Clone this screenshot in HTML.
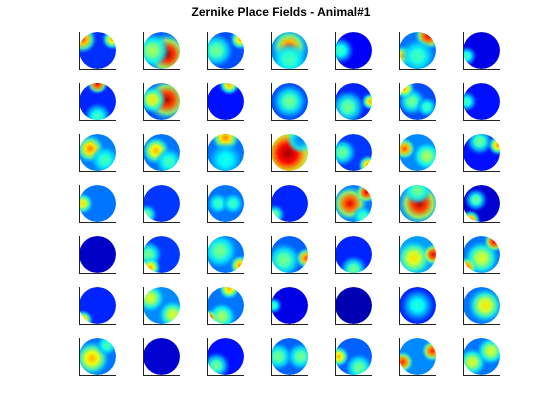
<!DOCTYPE html>
<html><head><meta charset="utf-8"><style>
body{margin:0;background:#fff;width:560px;height:420px;overflow:hidden}
svg{display:block}
</style></head><body>
<svg id="fig" width="560" height="420" xmlns="http://www.w3.org/2000/svg">
<text x="281" y="16" text-anchor="middle" font-family="Liberation Sans, sans-serif" font-weight="bold" font-size="12">Zernike Place Fields - Animal#1</text>
</svg>
<script>
// base value (0..1 jet) per cell, row-major 7x7
const baseValues=[0.17,0.22,0.2,0.26,0.12,0.24,0.1,
0.16,0.2,0.14,0.2,0.16,0.2,0.14,
0.25,0.24,0.24,0.45,0.18,0.26,0.14,
0.24,0.18,0.24,0.16,0.24,0.24,0.08,
0.07,0.18,0.24,0.22,0.16,0.28,0.24,
0.16,0.26,0.24,0.1,0.05,0.16,0.24,
0.24,0.08,0.14,0.22,0.22,0.26,0.24];
// hotspots per cell: [x, y, radius, value] in unit-disk coords
const hotspots=[
[[-0.8,-0.6,0.4,0.8],[0.8,-0.6,0.3,0.7]],
[[0.3,0.2,0.6,0.97],[-0.5,0,0.5,0.55]],
[[-0.5,0,0.5,0.5],[0.8,-0.6,0.3,0.7]],
[[0,-0.2,0.5,0.8],[0,0.5,0.5,0.45]],
[[-0.7,0,0.4,0.45]],
[[0.6,-0.8,0.4,0.9],[-0.8,0.3,0.3,0.7],[0,0.3,0.5,0.45]],
[[-0.8,0.3,0.3,0.45]],
[[0,-0.95,0.3,0.9],[0,0.8,0.4,0.45]],
[[0.3,-0.1,0.6,0.95],[-0.5,-0.1,0.4,0.65]],
[[0.2,-0.9,0.3,0.7]],
[[0,0,0.5,0.5]],
[[-0.3,0.3,0.5,0.5],[0.9,0,0.25,0.7]],
[[-0.3,0,0.4,0.5],[-0.7,-0.7,0.3,0.7],[0.5,0.3,0.3,0.45]],
[[-0.8,0,0.3,0.45]],
[[-0.4,-0.2,0.4,0.75],[0.4,0.4,0.4,0.45]],
[[-0.3,-0.1,0.4,0.7],[0.4,0.5,0.4,0.45]],
[[0,-0.8,0.4,0.75],[0,0.4,0.5,0.4]],
[[-0.1,0.05,0.75,0.97],[0.6,-0.7,0.4,0.25]],
[[-0.6,0,0.4,0.5],[0.8,0.7,0.3,0.75]],
[[-0.7,-0.2,0.3,0.8],[0.5,0.2,0.4,0.55]],
[[-0.1,-0.6,0.4,0.5],[0.9,-0.4,0.3,0.75]],
[[-0.8,0,0.3,0.65]],
[[-0.8,0.6,0.3,0.5]],
[[-0.4,0,0.3,0.45],[0.4,0,0.3,0.45]],
[[-0.8,0.6,0.3,0.5]],
[[-0.2,0,0.5,0.9],[0.7,-0.6,0.3,0.9],[0.5,0.7,0.3,0.45]],
[[0.1,0,0.6,0.95],[0,-0.7,0.4,0.5]],
[[-0.3,-0.2,0.35,0.5],[-0.6,0.9,0.3,0.8]],
[],
[[-0.7,0,0.4,0.5],[-0.6,0.7,0.3,0.7]],
[[-0.3,-0.2,0.5,0.5],[0.8,0.6,0.3,0.75]],
[[-0.3,0.3,0.5,0.5],[0.9,0.2,0.3,0.8]],
[[0,0.8,0.4,0.5]],
[[-0.2,0.2,0.5,0.65],[0.85,0,0.3,0.9]],
[[0,0.2,0.5,0.6],[0.7,-0.7,0.3,0.9],[-0.8,0.7,0.3,0.8]],
[[-0.8,0.8,0.3,0.75]],
[[-0.6,-0.4,0.4,0.6],[0.6,0.5,0.4,0.6]],
[[-0.2,0.6,0.4,0.55],[-0.9,0.7,0.25,0.9],[0.2,-0.9,0.3,0.7]],
[[-0.85,0,0.25,0.45]],
[],
[[0,0,0.5,0.42]],
[[0.2,0,0.5,0.65]],
[[-0.3,0.1,0.5,0.7],[0.5,-0.6,0.3,0.45]],
[],
[[-0.5,0.5,0.4,0.5]],
[[-0.6,0,0.4,0.5],[0.6,0,0.4,0.5]],
[[-0.8,0,0.3,0.7],[0.3,0.6,0.4,0.5]],
[[-0.8,0.3,0.3,0.85],[0.8,-0.3,0.3,0.85]],
[[-0.5,0.3,0.4,0.6],[0.5,-0.3,0.4,0.6]]];
const colX=[79,143,207,271,335,399,463];
const rowY=[32,83,134,185,236,287,338];
function jet(v){
  v=Math.max(0,Math.min(1,v));
  const f=(x)=>Math.max(0,Math.min(1,1.5-Math.abs(4*v-x)));
  return `rgb(${Math.round(255*f(3))},${Math.round(255*f(2))},${Math.round(255*f(1))})`;
}
const svg=document.getElementById('fig');
const NS='http://www.w3.org/2000/svg';
const defs=document.createElementNS(NS,'defs');svg.appendChild(defs);
const S=37;
for(let i=0;i<49;i++){
  const r=Math.floor(i/7),c=i%7;
  const x0=colX[c],y0=rowY[r];
  const cx=x0+S/2,cy=y0+S/2,R=S/2;
  const g=document.createElementNS(NS,'g');
  
  
  const cp=document.createElementNS(NS,'clipPath');cp.setAttribute('id','cp'+i);
  const cc=document.createElementNS(NS,'circle');cc.setAttribute('cx',cx);cc.setAttribute('cy',cy);cc.setAttribute('r',R);
  cp.appendChild(cc);defs.appendChild(cp);
  const inner=document.createElementNS(NS,'g');inner.setAttribute('clip-path','url(#cp'+i+')');
  const base=document.createElementNS(NS,'circle');
  base.setAttribute('cx',cx);base.setAttribute('cy',cy);base.setAttribute('r',R);base.setAttribute('fill',jet(baseValues[i]));
  
  
  inner.appendChild(base);
  hotspots[i].forEach((h,k)=>{
    const gid='rg'+i+'_'+k;
    const rg=document.createElementNS(NS,'radialGradient');rg.setAttribute('id',gid);
    const b=baseValues[i];
    [[0,h[3],1],[0.35,b+(h[3]-b)*0.8,1],[0.65,b+(h[3]-b)*0.45,0.85],[1,b+(h[3]-b)*0.2,0]].forEach(s=>{const st=document.createElementNS(NS,'stop');st.setAttribute('offset',s[0]);st.setAttribute('stop-color',jet(s[1]));st.setAttribute('stop-opacity',s[2]);rg.appendChild(st);});
    defs.appendChild(rg);
    const e=document.createElementNS(NS,'circle');
    e.setAttribute('cx',cx+h[0]*R);e.setAttribute('cy',cy+h[1]*R);e.setAttribute('r',h[2]*R*1.9);
    e.setAttribute('fill','url(#'+gid+')');
    
    
    inner.appendChild(e);
  });
  g.appendChild(inner);
  const ax=document.createElementNS(NS,'path');
  ax.setAttribute('d',`M${x0+0.5},${y0} V${y0+S+0.5} H${x0+S}`);
  ax.setAttribute('stroke','#222');ax.setAttribute('fill','none');ax.setAttribute('stroke-width','1');
  
  
  g.appendChild(ax);
  svg.appendChild(g);
}
</script>
</body></html>
